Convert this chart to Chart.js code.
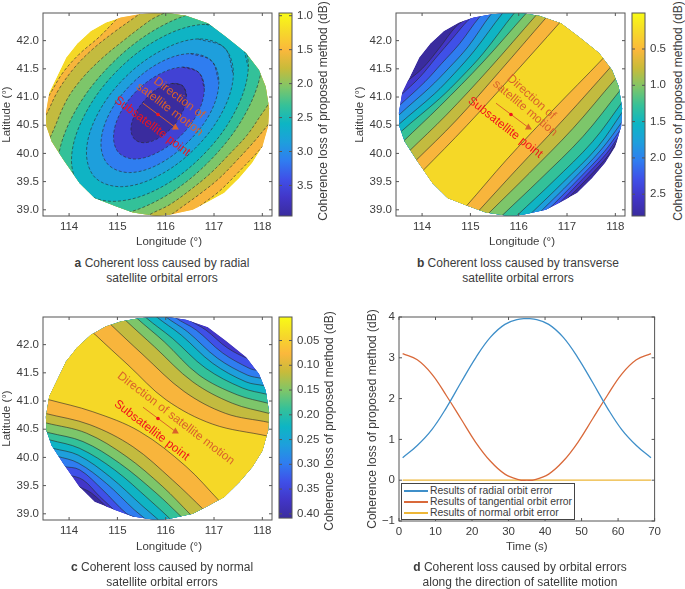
<!DOCTYPE html>
<html>
<head>
<meta charset="utf-8">
<script src="https://cdn.jsdelivr.net/npm/chart.js@4"></script>
<style>
  html, body { margin: 0; padding: 0; background: #fff; }
  body { position: relative; width: 685px; height: 589px; overflow: hidden; font-family: "Liberation Sans", sans-serif; color: #3c3c3c; }
  canvas { position: absolute; }
  .caption { position: absolute; width: 300px; text-align: center; font-size: 12px; line-height: 14.5px; }
  .cbLabel { position: absolute; width: 240px; height: 14px; line-height: 14px; text-align: center; font-size: 12px; transform: rotate(-90deg); white-space: nowrap; }
  .axisLabel { position: absolute; width: 100px; height: 14px; line-height: 14px; text-align: center; font-size: 11.5px; }
  #legendBox { position: absolute; left: 401px; top: 483px; width: 172px; height: 35px; background: #fff; border: 1px solid #444; font-size: 10.4px; }
  #legendBox div { position: absolute; left: 2px; height: 11px; line-height: 11px; white-space: nowrap; }
  #legendBox i { display: inline-block; width: 24px; height: 2px; vertical-align: middle; margin-right: 2px; }
</style>
</head>
<body>
<canvas id="mapA" width="276" height="248" style="left:0;top:0"></canvas>
<canvas id="barA" width="62" height="230" style="left:276px;top:0"></canvas>
<canvas id="mapB" width="276" height="248" style="left:353px;top:0"></canvas>
<canvas id="barB" width="39" height="230" style="left:629px;top:0"></canvas>
<canvas id="mapC" width="276" height="253" style="left:0;top:300px"></canvas>
<canvas id="barC" width="62" height="230" style="left:276px;top:300px"></canvas>
<canvas id="lineD" width="300" height="254" style="left:365px;top:300px"></canvas>

<div class="axisLabel" style="left:119px;top:234px">Longitude (°)</div>
<div class="axisLabel" style="left:472px;top:234px">Longitude (°)</div>
<div class="axisLabel" style="left:119px;top:539px">Longitude (°)</div>

<div class="cbLabel" style="left:203px;top:104px">Coherence loss of proposed method (dB)</div>
<div class="cbLabel" style="left:558px;top:104px">Coherence loss of proposed method (dB)</div>
<div class="cbLabel" style="left:209px;top:414px">Coherence loss of proposed method (dB)</div>

<div class="caption" style="left:12px;top:256px"><b>a</b> Coherent loss caused by radial<br>satellite orbital errors</div>
<div class="caption" style="left:368px;top:256px"><b>b</b> Coherent loss caused by transverse<br>satellite orbital errors</div>
<div class="caption" style="left:12px;top:560px"><b>c</b> Coherent loss caused by normal<br>satellite orbital errors</div>
<div class="caption" style="left:370px;top:560px"><b>d</b> Coherent loss caused by orbital errors<br>along the direction of satellite motion</div>
<div id="legendBox"></div>

<script>
// ---- data (lon, lat in degrees) ----
const lonTicks = [114, 115, 116, 117, 118];
const latTicks = [39, 39.5, 40, 40.5, 41, 41.5, 42];
const lonRange = [113.46, 118.2];
const latRange = [38.89, 42.49];

const discOutline = [[115.80,42.49],[116.04,42.49],[116.42,42.44],[116.87,42.31],[117.24,42.07],[117.66,41.78],[117.93,41.48],[118.07,41.18],[118.14,40.80],[118.12,40.48],[118.00,40.12],[117.79,39.83],[117.52,39.56],[117.21,39.30],[116.90,39.15],[116.56,39.00],[116.08,38.91],[115.80,38.89],[115.32,38.95],[114.98,39.06],[114.53,39.21],[114.22,39.47],[113.88,39.89],[113.64,40.21],[113.53,40.48],[113.52,40.72],[113.59,41.08],[113.77,41.40],[113.94,41.70],[114.17,41.95],[114.45,42.17],[114.76,42.32],[115.07,42.41],[115.45,42.47]];

// panel a: closed contours, innermost first
const radialLoops = [
  [[116.35,41.20],[116.43,41.02],[116.36,40.76],[116.16,40.49],[115.87,40.28],[115.58,40.19],[115.37,40.24],[115.28,40.41],[115.35,40.67],[115.56,40.94],[115.84,41.15],[116.13,41.24]],
  [[116.69,41.43],[116.80,41.14],[116.67,40.73],[116.32,40.32],[115.84,40.02],[115.37,39.90],[115.03,40.01],[114.92,40.30],[115.05,40.70],[115.40,41.11],[115.88,41.41],[116.35,41.53]],
  [[116.95,41.64],[117.10,41.26],[116.93,40.73],[116.47,40.21],[115.86,39.81],[115.25,39.66],[114.81,39.80],[114.66,40.17],[114.83,40.70],[115.29,41.23],[115.90,41.62],[116.51,41.77]],
  [[117.22,41.87],[117.40,41.40],[117.18,40.75],[116.61,40.09],[115.84,39.60],[115.09,39.41],[114.54,39.57],[114.36,40.03],[114.58,40.68],[115.15,41.34],[115.92,41.83],[116.67,42.03]],
  [[117.48,42.10],[117.71,41.54],[117.44,40.75],[116.76,39.96],[115.84,39.37],[114.93,39.15],[114.28,39.34],[114.05,39.90],[114.32,40.68],[115.00,41.47],[115.92,42.06],[116.83,42.29]],
  [[117.75,42.33],[118.00,41.68],[117.69,40.77],[116.89,39.85],[115.82,39.16],[114.76,38.89],[114.01,39.11],[113.76,39.76],[114.07,40.66],[114.87,41.58],[115.94,42.27],[117.00,42.54]]
];
// panel a: outer contours are two arcs cut by the disc
const radialUpperArcs = [
  [[113.43,40.06],[113.60,40.27],[113.94,40.93],[114.25,41.31],[114.66,41.67],[115.11,41.99],[115.66,42.35],[116.21,42.67]],
  [[113.36,40.45],[113.53,40.69],[113.77,41.11],[114.11,41.52],[114.49,41.85],[114.93,42.15],[115.42,42.45],[115.80,42.70]],
  [[113.40,40.80],[113.58,41.02],[113.87,41.43],[114.21,41.76],[114.63,42.07],[115.02,42.41],[115.32,42.64]]
];
const radialLowerArcs = [
  [[115.32,38.70],[115.66,38.91],[116.08,39.09],[116.52,39.36],[116.93,39.65],[117.31,39.98],[117.69,40.33],[118.03,40.75],[118.34,41.07]],
  [[115.87,38.73],[116.21,38.97],[116.69,39.27],[117.11,39.56],[117.52,39.92],[117.86,40.24],[118.12,40.51],[118.38,40.78]],
  [[116.42,38.82],[116.66,39.03],[117.11,39.33],[117.52,39.68],[117.79,39.92],[118.00,40.12],[118.24,40.36]]
];

// panel b: contour pairs either side of the central strip
const transverseNw = [
  [[113.71,39.44],[114.00,39.68],[114.92,40.49],[115.88,41.39],[116.84,42.31],[117.12,42.58]],
  [[113.55,39.61],[113.83,39.84],[114.71,40.59],[115.60,41.45],[116.57,42.41],[116.84,42.67]],
  [[113.45,39.80],[113.72,40.03],[114.50,40.68],[115.40,41.51],[116.36,42.45],[116.64,42.71]],
  [[113.35,39.98],[113.62,40.22],[114.36,40.83],[115.26,41.62],[116.15,42.48],[116.43,42.74]],
  [[113.30,40.14],[113.57,40.39],[114.36,40.97],[114.81,41.35],[115.26,41.77],[115.91,42.49],[116.19,42.75]],
  [[113.26,40.30],[113.54,40.53],[114.26,41.06],[114.67,41.42],[115.09,41.83],[115.67,42.49],[115.95,42.74]],
  [[113.26,40.44],[113.52,40.68],[114.16,41.17],[114.54,41.50],[114.95,41.89],[115.43,42.47],[115.71,42.71]],
  [[113.33,40.68],[113.52,40.84],[114.06,41.27],[114.40,41.59],[114.78,41.95],[115.19,42.42],[115.47,42.65]],
  [[113.40,40.89],[113.56,41.03],[113.95,41.35],[114.30,41.71],[114.63,42.04],[114.95,42.36],[115.23,42.57]],
  [[113.47,41.09],[113.65,41.25],[114.01,41.51],[114.35,41.86],[114.71,42.26],[114.95,42.42]]
];
const transverseSe = [
  [[114.64,38.82],[114.92,39.07],[115.74,39.88],[116.71,40.77],[117.74,41.68],[118.01,41.95]],
  [[114.90,38.73],[115.18,38.99],[115.95,39.71],[116.98,40.65],[117.88,41.51],[118.15,41.77]],
  [[115.11,38.71],[115.38,38.94],[116.22,39.65],[117.12,40.44],[118.01,41.33],[118.29,41.59]],
  [[115.40,38.68],[115.67,38.91],[116.43,39.53],[117.33,40.30],[118.10,41.12],[118.36,41.39]],
  [[115.71,38.68],[115.98,38.91],[116.71,39.50],[117.53,40.21],[118.15,40.92],[118.39,41.21]],
  [[115.98,38.71],[116.26,38.94],[116.91,39.48],[117.64,40.12],[118.15,40.74],[118.39,41.03]],
  [[116.22,38.78],[116.49,39.00],[117.08,39.50],[117.70,40.06],[118.14,40.56],[118.39,40.86]],
  [[116.43,38.85],[116.69,39.07],[117.22,39.53],[117.77,40.03],[118.10,40.41],[118.36,40.71]],
  [[116.64,38.94],[116.88,39.15],[117.34,39.56],[117.82,40.00],[118.06,40.29],[118.29,40.56]],
  [[116.84,39.05],[117.06,39.24],[117.46,39.59],[117.86,39.97],[118.01,40.18],[118.25,40.44]]
];

// panel c: contour pairs either side of the central strip
const normalSw = [
  [[113.28,41.09],[113.55,41.03],[114.49,40.81],[115.46,40.46],[116.42,39.84],[117.13,39.21],[117.37,39.00]],
  [[113.24,40.84],[113.51,40.78],[114.43,40.58],[115.32,40.19],[116.14,39.60],[116.80,39.06],[117.04,38.85]],
  [[113.26,40.67],[113.53,40.61],[114.36,40.43],[115.18,40.02],[115.94,39.48],[116.52,38.98],[116.76,38.77]],
  [[113.29,40.50],[113.57,40.44],[114.29,40.28],[115.04,39.90],[115.80,39.37],[116.32,38.95],[116.56,38.75]],
  [[113.33,40.37],[113.60,40.31],[114.22,40.16],[114.94,39.78],[115.66,39.25],[116.08,38.92],[116.32,38.72]],
  [[113.40,40.22],[113.67,40.16],[114.19,40.04],[114.84,39.66],[115.53,39.13],[115.84,38.90],[116.08,38.70]],
  [[113.48,40.07],[113.75,40.02],[114.19,39.90],[114.77,39.54],[115.35,39.07],[115.59,38.90],[115.84,38.70]],
  [[113.60,39.90],[113.88,39.84],[114.22,39.78],[114.70,39.42],[115.18,39.01],[115.39,38.92],[115.63,38.72]],
  [[113.70,39.75],[113.98,39.69],[114.29,39.60],[114.63,39.31],[115.04,38.98],[115.29,38.77]],
  [[113.91,39.72],[114.15,39.51],[114.46,39.37],[114.87,39.04],[115.11,38.83]]
];
const normalNe = [
  [[114.27,42.41],[114.55,42.17],[115.22,41.64],[116.01,41.02],[116.97,40.59],[118.10,40.38],[118.38,40.32]],
  [[114.60,42.58],[114.87,42.35],[115.53,41.82],[116.38,41.17],[117.24,40.78],[118.14,40.62],[118.41,40.56]],
  [[114.89,42.66],[115.17,42.43],[115.77,41.96],[116.56,41.34],[117.38,40.96],[118.14,40.78],[118.41,40.72]],
  [[115.13,42.70],[115.40,42.47],[115.97,42.05],[116.69,41.46],[117.48,41.11],[118.12,40.96],[118.40,40.90]],
  [[115.32,42.72],[115.59,42.48],[116.14,42.11],[116.83,41.58],[117.59,41.23],[118.09,41.12],[118.36,41.06]],
  [[115.53,42.73],[115.80,42.50],[116.32,42.17],[116.97,41.67],[117.66,41.34],[118.05,41.27],[118.32,41.21]],
  [[115.71,42.73],[115.99,42.50],[116.45,42.23],[117.07,41.76],[117.69,41.46],[117.99,41.40],[118.26,41.34]],
  [[115.92,42.72],[116.20,42.48],[116.63,42.26],[117.18,41.85],[117.73,41.58],[117.90,41.54],[118.17,41.48]],
  [[116.18,42.70],[116.45,42.46],[116.83,42.26],[117.28,41.94],[117.76,41.73],[118.03,41.67]],
  [[116.52,42.61],[116.80,42.38],[117.11,42.17],[117.55,41.89],[117.83,41.83]]
];

// points outside the disc, used to walk round it when closing a band
const neWalk = [[115.5,43.2],[119,43.2],[119,41]];
const swWalk = [[116.5,38.2],[113,38.2],[113,39.5]];
const seWalk = [[118,38.3],[119,38.3],[119.2,41.5]];
const nwWalk = [[115,43.2],[113,43.2],[113,41.5],[112.8,39.5]];

// overlay marks
const motionArrow = [[115.53,40.89],[116.2,40.46]];
const subPoint = [[115.84,40.69]];
const notesA = [['Direction of', 116.28, 40.98, 37, 'dir'], ['satellite motion', 116.08, 40.78, 37, 'dir'], ['Subsatellite point', 115.72, 40.48, 37, 'sub']];
const notesB = [['Direction of', 116.26, 41.0, 42, 'dir'], ['satellite motion', 116.13, 40.8, 40, 'dir'], ['Subsatellite point', 115.72, 40.46, 38, 'sub']];
const notesC = [['Direction of satellite motion', 116.21, 40.69, 37.5, 'dir'], ['Subsatellite point', 115.71, 40.48, 37.5, 'sub']];

// colour bars
const cbRangeA = [0.96, 3.95], cbTicksA = [1, 1.5, 2, 2.5, 3, 3.5];
const cbRangeB = [0.004, 2.8], cbTicksB = [0.5, 1, 1.5, 2, 2.5];
const cbRangeC = [0.0025, 0.4086], cbTicksC = [0.05, 0.1, 0.15, 0.2, 0.25, 0.3, 0.35, 0.4];

// panel d
const timeSec = [1, 5, 9, 13, 17, 21, 25, 29, 33, 35, 37, 41, 45, 49, 53, 57, 61, 65, 69];
const radialLoss = [0.55, 0.85, 1.24, 1.78, 2.4, 3.0, 3.5, 3.82, 3.95, 3.96, 3.95, 3.82, 3.5, 3.0, 2.4, 1.78, 1.24, 0.85, 0.55];
const tangentialLoss = [3.1, 2.95, 2.6, 2.07, 1.5, 0.93, 0.47, 0.15, 0.01, 0, 0.01, 0.15, 0.47, 0.93, 1.5, 2.07, 2.6, 2.95, 3.1];
const normalLoss = [0.003, 0.002, 0.002, 0.001, 0.001, 0.001, 0, 0, 0, 0, 0, 0, 0, 0.001, 0.001, 0.001, 0.002, 0.002, 0.003];
const seriesNames = ['Results of radial orbit error', 'Results of tangential orbit error', 'Results of normal orbit error'];
const seriesColors = ['#3f8fc9', '#d9693a', '#edb637'];
const timeTicks = [0, 10, 20, 30, 40, 50, 60, 70];
const lossTicks = [-1, 0, 1, 2, 3, 4];

// darkest to lightest
const bandColors = ['#3a2c9e', '#4236c8', '#3f50e8', '#2f7df0', '#1e9fdc', '#0fb4c4', '#33c199', '#7dc66a', '#c3bb3f', '#f8b53c', '#f5d827'];
const bandColorsA = ['#3a2c9e', '#4142d4', '#2f7df0', '#1e9fdc', '#0fb4c4', '#33c199', '#7dc66a', '#c3bb3f', '#f8b53c', '#f5d827'];
const barStops = ['#f9fb15', '#f6d92a', '#fbb83c', '#c8bb3a', '#80c668', '#36c198', '#0db5c4', '#1e9fdc', '#2f7df0', '#3f50e8', '#4236c8', '#3a2c9e'];

Chart.defaults.font.family = '"Liberation Sans", sans-serif';
Chart.defaults.font.size = 11.5;
Chart.defaults.color = '#3c3c3c';
Chart.defaults.animation = false;

const toPts = list => list.map(p => ({ x: p[0], y: p[1] }));
const band = (a, walk1, b, walk2) => a.concat(walk1, b.slice().reverse(), walk2);
// overlap the ends so the smoothing has no corner where a loop closes
const closeLoop = loop => loop.slice(-1).concat(loop, loop.slice(0, 2));

const axisBox = {
  id: 'axisBox',
  afterDatasetsDraw(chart) {
    const { ctx, chartArea: c, scales } = chart;
    ctx.save();
    ctx.strokeStyle = '#555';
    ctx.lineWidth = 1;
    ctx.strokeRect(c.left, c.top, c.width, c.height);
    ctx.beginPath();
    if (scales.x.options.display) {
      scales.x.ticks.forEach(t => {
        const px = scales.x.getPixelForValue(t.value);
        ctx.moveTo(px, c.bottom); ctx.lineTo(px, c.bottom - 3);
        ctx.moveTo(px, c.top); ctx.lineTo(px, c.top + 3);
      });
    }
    scales.y.ticks.forEach(t => {
      const py = scales.y.getPixelForValue(t.value);
      ctx.moveTo(c.left, py); ctx.lineTo(c.left + 3, py);
      ctx.moveTo(c.right, py); ctx.lineTo(c.right - 3, py);
    });
    ctx.stroke();
    ctx.restore();
  }
};

const discClip = {
  id: 'discClip',
  beforeDatasetsDraw(chart) {
    const { ctx, scales } = chart;
    ctx.save();
    ctx.beginPath();
    discOutline.forEach((p, i) => {
      const x = scales.x.getPixelForValue(p[0]), y = scales.y.getPixelForValue(p[1]);
      if (i) ctx.lineTo(x, y); else ctx.moveTo(x, y);
    });
    ctx.closePath();
    ctx.clip();
  },
  afterDatasetsDraw(chart) { chart.ctx.restore(); }
};

const notePlugin = notes => ({
  id: 'notes',
  afterDraw(chart) {
    const { ctx, scales } = chart;
    notes.forEach(n => {
      ctx.save();
      ctx.translate(scales.x.getPixelForValue(n[1]), scales.y.getPixelForValue(n[2]));
      ctx.rotate(n[3] * Math.PI / 180);
      ctx.font = '12px "Liberation Sans", sans-serif';
      ctx.textAlign = 'center';
      ctx.textBaseline = 'middle';
      ctx.fillStyle = n[4] === 'sub' ? '#f0141c' : '#d9622b';
      ctx.fillText(n[0], 0, 0);
      ctx.restore();
    });
  }
});

function drawMap(id, regions, baseColor, dash, notes, pad) {
  const datasets = [
    { data: toPts(subPoint), pointRadius: 1.8, pointBackgroundColor: '#f0141c', pointBorderWidth: 0, showLine: false },
    { data: toPts(motionArrow), borderColor: '#d9622b', borderWidth: 1, tension: 0, pointRadius: [0, 4], pointStyle: 'triangle', pointBackgroundColor: '#d9622b', pointBorderWidth: 0 }
  ];
  regions.forEach(r => {
    datasets.push({ data: toPts(r.pts), fill: 'shape', backgroundColor: r.color, borderColor: '#2a2a2a', borderWidth: 0.6, borderDash: dash, tension: 0.35, capBezierPoints: false, pointRadius: 0 });
  });
  datasets.push({ data: toPts(discOutline), fill: 'shape', backgroundColor: baseColor, borderWidth: 0, tension: 0, pointRadius: 0 });
  new Chart(document.getElementById(id), {
    type: 'line',
    data: { datasets },
    options: {
      responsive: false,
      layout: { padding: { top: pad.top, right: 3, left: 0, bottom: 0 } },
      plugins: { legend: { display: false }, tooltip: { enabled: false } },
      scales: {
        x: {
          type: 'linear', min: lonRange[0], max: lonRange[1],
          grid: { display: false, drawTicks: false }, border: { display: false },
          afterFit: s => { s.height = pad.xh; },
          afterBuildTicks: s => { s.ticks = lonTicks.map(value => ({ value })); },
          ticks: { padding: 4, maxRotation: 0, autoSkip: false, callback: v => String(v) }
        },
        y: {
          min: latRange[0], max: latRange[1],
          grid: { display: false, drawTicks: false }, border: { display: false },
          afterFit: s => { s.width = 43; },
          afterBuildTicks: s => { s.ticks = latTicks.map(value => ({ value })); },
          ticks: { padding: 4, autoSkip: false, callback: v => v.toFixed(1) },
          title: { display: true, text: 'Latitude (°)', padding: 0 }
        }
      }
    },
    plugins: [discClip, axisBox, notePlugin(notes)]
  });
}

function drawBar(id, range, tickVals, digits, pad) {
  new Chart(document.getElementById(id), {
    type: 'bar',
    data: {
      labels: ['loss'],
      datasets: [{
        data: [range], barPercentage: 1, categoryPercentage: 1, borderWidth: 0,
        backgroundColor(ctx) {
          const area = ctx.chart.chartArea;
          if (!area) return '#888';
          const g = ctx.chart.ctx.createLinearGradient(0, area.top, 0, area.bottom);
          barStops.forEach((c, i) => g.addColorStop(i / (barStops.length - 1), c));
          return g;
        }
      }]
    },
    options: {
      responsive: false,
      layout: { padding: { top: pad.top, left: 3, right: 0, bottom: pad.bottom } },
      plugins: { legend: { display: false }, tooltip: { enabled: false } },
      scales: {
        x: { display: false },
        y: {
          position: 'right', reverse: true, min: range[0], max: range[1],
          grid: { display: false, drawTicks: false }, border: { display: false },
          afterFit: s => { s.width = pad.w; },
          afterBuildTicks: s => { s.ticks = tickVals.map(value => ({ value })); },
          ticks: { padding: 5, autoSkip: false, callback: v => v.toFixed(digits) }
        }
      }
    },
    plugins: [axisBox]
  });
}

// panel a
const regionsA = [];
radialLoops.forEach((loop, i) => regionsA.push({ pts: closeLoop(loop), color: bandColorsA[i] }));
radialUpperArcs.forEach((arc, i) => regionsA.push({ pts: band(arc, neWalk, radialLowerArcs[i], swWalk), color: bandColorsA[radialLoops.length + i] }));
drawMap('mapA', regionsA, bandColorsA[9], [3, 2], notesA, { top: 13, xh: 32 });
drawBar('barA', cbRangeA, cbTicksA, 1, { top: 13, bottom: 14, w: 46 });

// panel b
const regionsB = transverseNw.map((line, i) => ({ pts: band(line, neWalk, transverseSe[i], swWalk), color: bandColors[10 - i] }));
drawMap('mapB', regionsB, bandColors[0], [], notesB, { top: 13, xh: 32 });
drawBar('barB', cbRangeB, cbTicksB, 1, { top: 13, bottom: 14, w: 23 });

// panel c
const regionsC = normalSw.map((line, i) => ({ pts: band(line, seWalk, normalNe[i], nwWalk), color: bandColors[10 - i] }));
drawMap('mapC', regionsC, bandColors[0], [], notesC, { top: 17, xh: 33 });
drawBar('barC', cbRangeC, cbTicksC, 2, { top: 17, bottom: 10, w: 46 });

// panel d
new Chart(document.getElementById('lineD'), {
  type: 'line',
  data: {
    labels: timeSec,
    datasets: [radialLoss, tangentialLoss, normalLoss].map((vals, i) => ({
      label: seriesNames[i],
      data: vals.map((v, k) => ({ x: timeSec[k], y: v })),
      borderColor: seriesColors[i], borderWidth: 1.3, pointRadius: 0, tension: 0.4
    }))
  },
  options: {
    responsive: false,
    layout: { padding: { top: 17, right: 8, left: 0, bottom: 0 } },
    plugins: { legend: { display: false }, tooltip: { enabled: false } },
    scales: {
      x: {
        type: 'linear', min: 0, max: 70,
        grid: { display: false, drawTicks: false }, border: { display: false },
        afterFit: s => { s.height = 33; },
        afterBuildTicks: s => { s.ticks = timeTicks.map(value => ({ value })); },
        ticks: { padding: 4, maxRotation: 0, autoSkip: false, callback: v => String(v) },
        title: { display: true, text: 'Time (s)', padding: 0 }
      },
      y: {
        min: -1, max: 4,
        grid: { display: false, drawTicks: false }, border: { display: false },
        afterFit: s => { s.width = 34; },
        afterBuildTicks: s => { s.ticks = lossTicks.map(value => ({ value })); },
        ticks: { padding: 4, autoSkip: false, callback: v => String(v).replace('-', '\u2212') },
        title: { display: true, text: 'Coherence loss of proposed method (dB)', padding: 0, font: { size: 12 } }
      }
    }
  },
  plugins: [axisBox]
});

const legendBox = document.getElementById('legendBox');
seriesNames.forEach((name, i) => {
  const row = document.createElement('div');
  row.style.top = (1 + i * 11) + 'px';
  row.innerHTML = `<i style="background:${seriesColors[i]}"></i>${name}`;
  legendBox.appendChild(row);
});
</script>
</body>
</html>
